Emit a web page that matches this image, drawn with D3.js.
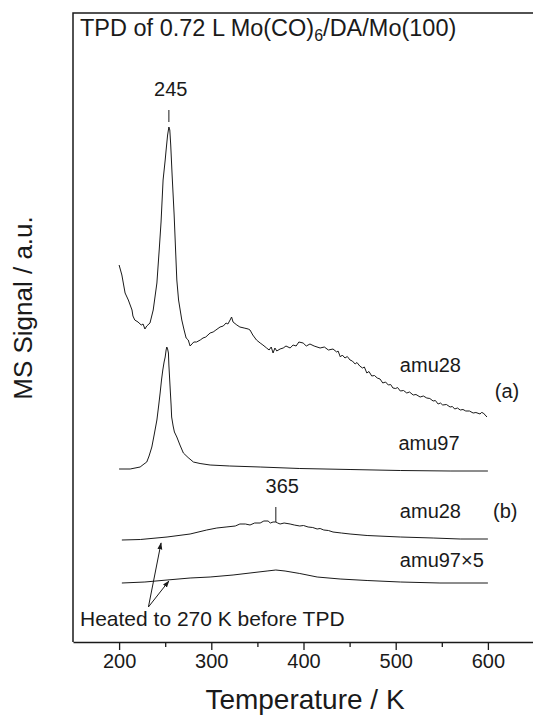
<!DOCTYPE html>
<html lang="en">

<head>
    <meta charset="UTF-8">
    <title>TPD of Mo(CO)6/DA/Mo(100)</title>
    <style>
        body { margin: 0; background: #fff; }
        text { font-family: "Liberation Sans", Arial, sans-serif; fill: #1a1a1a; }
    </style>
</head>

<body>
    <svg width="533" height="715"></svg>
    <script src="https://d3js.org/d3.v7.min.js"></script>
    <script>

        // temperatures in K, signals in arbitrary units (offset traces stacked on one scale)
        let amu28a = [
            [200, 377], [203, 367], [206.5, 349], [210, 342], [214, 332], [215, 326], [217, 322], [220.5, 320],
            [224, 317], [226, 318], [228, 313], [230, 316], [233.5, 319], [237, 332], [241, 359], [243.5, 392],
            [245.5, 420], [247.7, 462], [250, 482], [251, 492], [252.6, 507], [254, 515], [255, 512], [256, 497],
            [257.5, 467], [259.7, 427], [262.6, 362], [264.5, 342], [268, 322], [270.5, 312], [272.7, 304],
            [275, 302], [277, 296], [279, 298], [281, 300], [284, 300], [288, 302], [291, 304], [294, 305],
            [298.7, 309], [302, 310], [305, 312], [309.5, 315], [313, 316], [316, 319], [318, 318], [320.4, 322],
            [322, 325], [323.6, 320], [327.7, 317], [331, 315], [335.6, 314], [340, 313], [342, 312], [345, 307],
            [349, 302], [353, 299], [356, 297], [360, 294], [362.7, 292], [365, 295], [367, 289], [369, 294],
            [371, 291], [374.6, 293], [378, 294], [381, 296], [385.5, 294], [388.7, 297], [392, 296], [395, 300],
            [399.6, 299], [403, 296], [407, 298], [411.5, 296], [418, 294], [422.6, 295], [427, 292], [432, 293],
            [436, 290], [437.5, 291], [440, 285], [442, 287], [445, 284], [447.5, 285.5], [450.5, 282], [453, 281],
            [456, 278], [458, 279.5], [461, 276], [464, 274], [466, 275], [468.7, 269], [471, 270.5], [474, 266],
            [477, 266.5], [480, 264], [483, 263], [486, 259], [489, 260], [492, 257], [494.5, 257.5], [497, 254],
            [500, 253.5], [502, 254.5], [505, 251], [508.5, 251.5], [512, 249], [515, 250], [519, 247],
            [522, 247.5], [526.5, 245], [530, 246], [533.7, 244], [537, 243.5], [540.6, 241], [543, 241.5],
            [546, 238], [548.5, 239], [551, 237], [555, 237.5], [559, 235], [561.5, 235.5], [564, 233], [567, 234],
            [570, 232], [573, 232.5], [576, 231], [580, 231], [584, 229], [587, 229.5], [591.5, 228], [593, 229.5],
            [595, 229], [597, 227], [599, 225]
        ];

        let amu97a = [
            [200, 173], [212, 173], [222.8, 175], [227, 178], [230, 180], [232.5, 186], [235.5, 195], [238, 207],
            [241, 222], [243, 237], [244.5, 249], [246, 262], [247.4, 272], [248.8, 280], [250, 285], [251, 292],
            [251.7, 295], [252.6, 293], [253.5, 289], [254, 277], [255.3, 255], [256.4, 237], [257, 225],
            [258.6, 216], [260, 210], [262.6, 205], [266, 197], [269.7, 189], [274.8, 184.5], [280.6, 180],
            [287.8, 178.5], [298.7, 177], [320, 176], [353, 175], [396, 173.5], [450.5, 172.5], [505, 171.5],
            [559, 171], [600, 171]
        ];

        let amu28b = [
            [203, 102], [223, 102.5], [252, 105], [277, 108], [295, 112], [306, 114], [316, 115], [326, 116],
            [331, 118], [337, 118], [342, 117], [347, 119], [353, 119], [357, 121], [361.6, 121], [364, 119],
            [367, 120], [370, 120], [372, 119], [374.6, 118], [379, 119], [385.5, 118], [390, 117], [396, 116],
            [400, 116.5], [405, 115], [410, 114.5], [414.8, 113], [418, 113.5], [422, 112], [427, 111.5],
            [432, 110], [441, 109], [450.5, 108], [469, 106.5], [505, 105], [540.6, 104], [570, 103], [600, 103]
        ];

        let amu97b = [
            [203, 59], [228, 60], [252, 62], [277, 64], [298.7, 65], [323.6, 67], [342, 69], [360.5, 71],
            [370, 72], [380, 71], [396, 68.5], [414.8, 65], [439.7, 63], [469, 61.5], [505, 60], [548, 59],
            [600, 59]
        ];

        let majorTicks = [200, 300, 400, 500, 600];
        let minorTicks = [250, 350, 450, 550];

        // peak markers: [T, low, high, label, labelT, labelV]
        let peakMarks = [
            [254, 520, 532, "245", 256, 546],
            [370, 120, 135, "365", 377, 149]
        ];

        // trace labels: [text, T, value]
        let traceLabels = [
            ["amu28", 504.5, 270],
            ["(a)", 607.5, 244],
            ["amu97", 503, 192],
            ["amu28", 504.5, 124],
            ["(b)", 605.5, 124],
            ["amu97\u00d75", 504.5, 75]
        ];

        // arrows from the note to the two (b) traces: [fromT, fromV, toT, toV]
        let arrows = [
            [231.8, 35, 245.5, 99],
            [231.8, 35, 254, 61]
        ];

        let svg = d3.select("svg"),
            plotLeft = 73, plotRight = 534, plotTop = 13, plotBottom = 642;

        let x = d3.scaleLinear().domain([150, 650]).range([plotLeft, plotRight]);
        let y = d3.scaleLinear().domain([0, 630]).range([plotBottom, 12]);

        let line = d3.line()
            .x(d => x(d[0]))
            .y(d => y(d[1]));

        svg.append("defs").append("marker")
            .attr("id", "head")
            .attr("viewBox", "0 0 10 10")
            .attr("refX", 9)
            .attr("refY", 5)
            .attr("markerWidth", 7)
            .attr("markerHeight", 7)
            .attr("orient", "auto")
            .append("path")
            .attr("d", "M0,1.5 L10,5 L0,8.5 Z")
            .attr("fill", "#1a1a1a");

        // frame: left and top
        svg.append("path")
            .attr("d", "M" + plotLeft + "," + plotBottom + "V" + plotTop + "H533")
            .attr("fill", "none")
            .attr("stroke", "#1a1a1a")
            .attr("stroke-width", 1.5);

        let gx = svg.append("g")
            .attr("transform", "translate(0," + plotBottom + ")")
            .call(d3.axisBottom(x).tickValues(majorTicks).tickSize(8).tickSizeOuter(0).tickPadding(4));
        gx.select(".domain").attr("stroke-width", 1.5).attr("stroke", "#1a1a1a");
        gx.selectAll(".tick line").attr("stroke", "#1a1a1a").attr("stroke-width", 1.3);
        gx.selectAll(".tick text")
            .attr("font-size", 20)
            .attr("font-family", "Liberation Sans, Arial, sans-serif")
            .attr("fill", "#1a1a1a");

        let gm = svg.append("g")
            .attr("transform", "translate(0," + plotBottom + ")")
            .call(d3.axisBottom(x).tickValues(minorTicks).tickSize(5).tickFormat(""));
        gm.select(".domain").remove();
        gm.selectAll(".tick line").attr("stroke", "#1a1a1a").attr("stroke-width", 1.3);

        svg.append("text")
            .attr("x", 305)
            .attr("y", 709)
            .attr("text-anchor", "middle")
            .attr("font-size", 28)
            .text("Temperature / K");

        svg.append("text")
            .attr("transform", "translate(32,308) rotate(-90)")
            .attr("text-anchor", "middle")
            .attr("font-size", 26)
            .text("MS Signal / a.u.");

        let title = svg.append("text")
            .attr("x", 80)
            .attr("y", 36)
            .attr("font-size", 23.5);
        title.append("tspan").text("TPD of 0.72 L Mo(CO)");
        title.append("tspan").attr("font-size", 16).attr("dy", 5).text("6");
        title.append("tspan").attr("dy", -5).text("/DA/Mo(100)");

        [amu28a, amu97a, amu28b, amu97b].forEach(series => {
            svg.append("path")
                .datum(series)
                .attr("fill", "none")
                .attr("stroke", "#1a1a1a")
                .attr("stroke-width", 1)
                .attr("stroke-linejoin", "round")
                .attr("d", line);
        });

        peakMarks.forEach(p => {
            svg.append("line")
                .attr("x1", x(p[0])).attr("x2", x(p[0]))
                .attr("y1", y(p[1])).attr("y2", y(p[2]))
                .attr("stroke", "#1a1a1a")
                .attr("stroke-width", 1);
            svg.append("text")
                .attr("x", x(p[4]))
                .attr("y", y(p[5]))
                .attr("text-anchor", "middle")
                .attr("font-size", 20)
                .text(p[3]);
        });

        traceLabels.forEach(l => {
            svg.append("text")
                .attr("x", x(l[1]))
                .attr("y", y(l[2]))
                .attr("font-size", 20)
                .text(l[0]);
        });

        arrows.forEach(a => {
            svg.append("line")
                .attr("x1", x(a[0])).attr("y1", y(a[1]))
                .attr("x2", x(a[2])).attr("y2", y(a[3]))
                .attr("stroke", "#1a1a1a")
                .attr("stroke-width", 1)
                .attr("marker-end", "url(#head)");
        });

        svg.append("text")
            .attr("x", 80)
            .attr("y", 626)
            .attr("font-size", 21)
            .text("Heated to 270 K before TPD");

    </script>

</body>

</html>
